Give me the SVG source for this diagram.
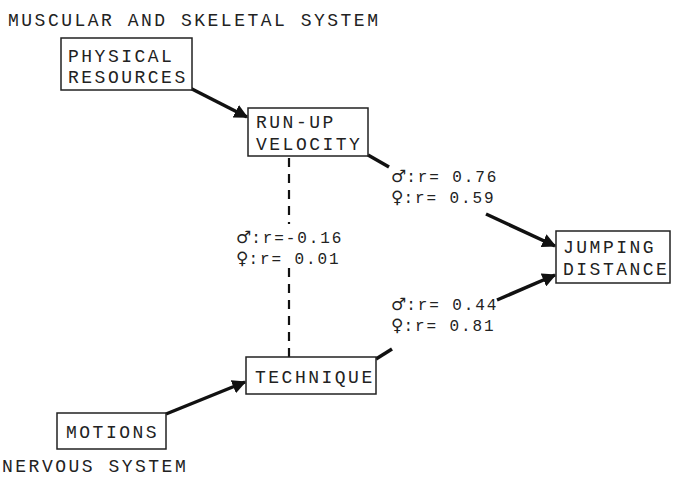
<svg xmlns="http://www.w3.org/2000/svg" width="674" height="478" viewBox="0 0 674 478">
<style>
text{font-family:"Liberation Mono","DejaVu Sans Mono",monospace;fill:#222}
.t{font-size:18px;letter-spacing:2.5px}
.l{font-size:16px;letter-spacing:1.9px}
.s{font-family:"DejaVu Sans",sans-serif;font-size:17px;letter-spacing:0}
.box{fill:#fff;stroke:#222;stroke-width:1.5}
.c{stroke:#111;stroke-width:3.5;fill:none}
.d{stroke:#111;stroke-width:2.2;stroke-dasharray:9 7;fill:none}
</style>
<defs>
<marker id="ah" viewBox="0 0 10 10" refX="9" refY="5" markerWidth="4" markerHeight="4" orient="auto" markerUnits="strokeWidth">
<path d="M0,0 L10,5 L0,10 Z" fill="#111"/>
</marker>
</defs>
<text class="t" x="8" y="26">MUSCULAR AND SKELETAL SYSTEM</text>
<text class="t" x="2" y="472">NERVOUS SYSTEM</text>
<g id="connectors">
<line class="c" x1="190" y1="88" x2="247" y2="117" marker-end="url(#ah)"/>
<line class="c" x1="368" y1="155" x2="389" y2="167"/>
<line class="c" x1="486" y1="214" x2="555" y2="246" marker-end="url(#ah)"/>
<line class="c" x1="376" y1="359" x2="392" y2="349"/>
<line class="c" x1="497" y1="300" x2="555" y2="275" marker-end="url(#ah)"/>
<line class="c" x1="166" y1="414" x2="245" y2="382" marker-end="url(#ah)"/>
<line class="d" x1="289" y1="158" x2="289" y2="224"/>
<line class="d" x1="289" y1="268" x2="289" y2="357"/>
<text class="l" x="391" y="182"><tspan class="s">♂</tspan>:r= 0.76</text>
<text class="l" x="391" y="203"><tspan class="s">♀</tspan>:r= 0.59</text>
<text class="l" x="236" y="243"><tspan class="s">♂</tspan>:r=-0.16</text>
<text class="l" x="236" y="264"><tspan class="s">♀</tspan>:r= 0.01</text>
<text class="l" x="391" y="310"><tspan class="s">♂</tspan>:r= 0.44</text>
<text class="l" x="391" y="331"><tspan class="s">♀</tspan>:r= 0.81</text>
</g>
<g id="physical">
<rect class="box" x="61" y="38" width="131" height="52"/>
<text class="t" x="68" y="62">PHYSICAL</text>
<text class="t" x="68" y="83">RESOURCES</text>
</g>
<g id="runup">
<rect class="box" x="248" y="108" width="120" height="48"/>
<text class="t" x="256" y="128">RUN-UP</text>
<text class="t" x="256" y="150">VELOCITY</text>
</g>
<g id="jumping">
<rect class="box" x="556" y="231" width="114" height="52"/>
<text class="t" x="563" y="253">JUMPING</text>
<text class="t" x="563" y="275">DISTANCE</text>
</g>
<g id="technique">
<rect class="box" x="246" y="357" width="130" height="37"/>
<text class="t" x="255" y="383">TECHNIQUE</text>
</g>
<g id="motions">
<rect class="box" x="57" y="413" width="109" height="36"/>
<text class="t" x="66" y="438">MOTIONS</text>
</g>
</svg>
